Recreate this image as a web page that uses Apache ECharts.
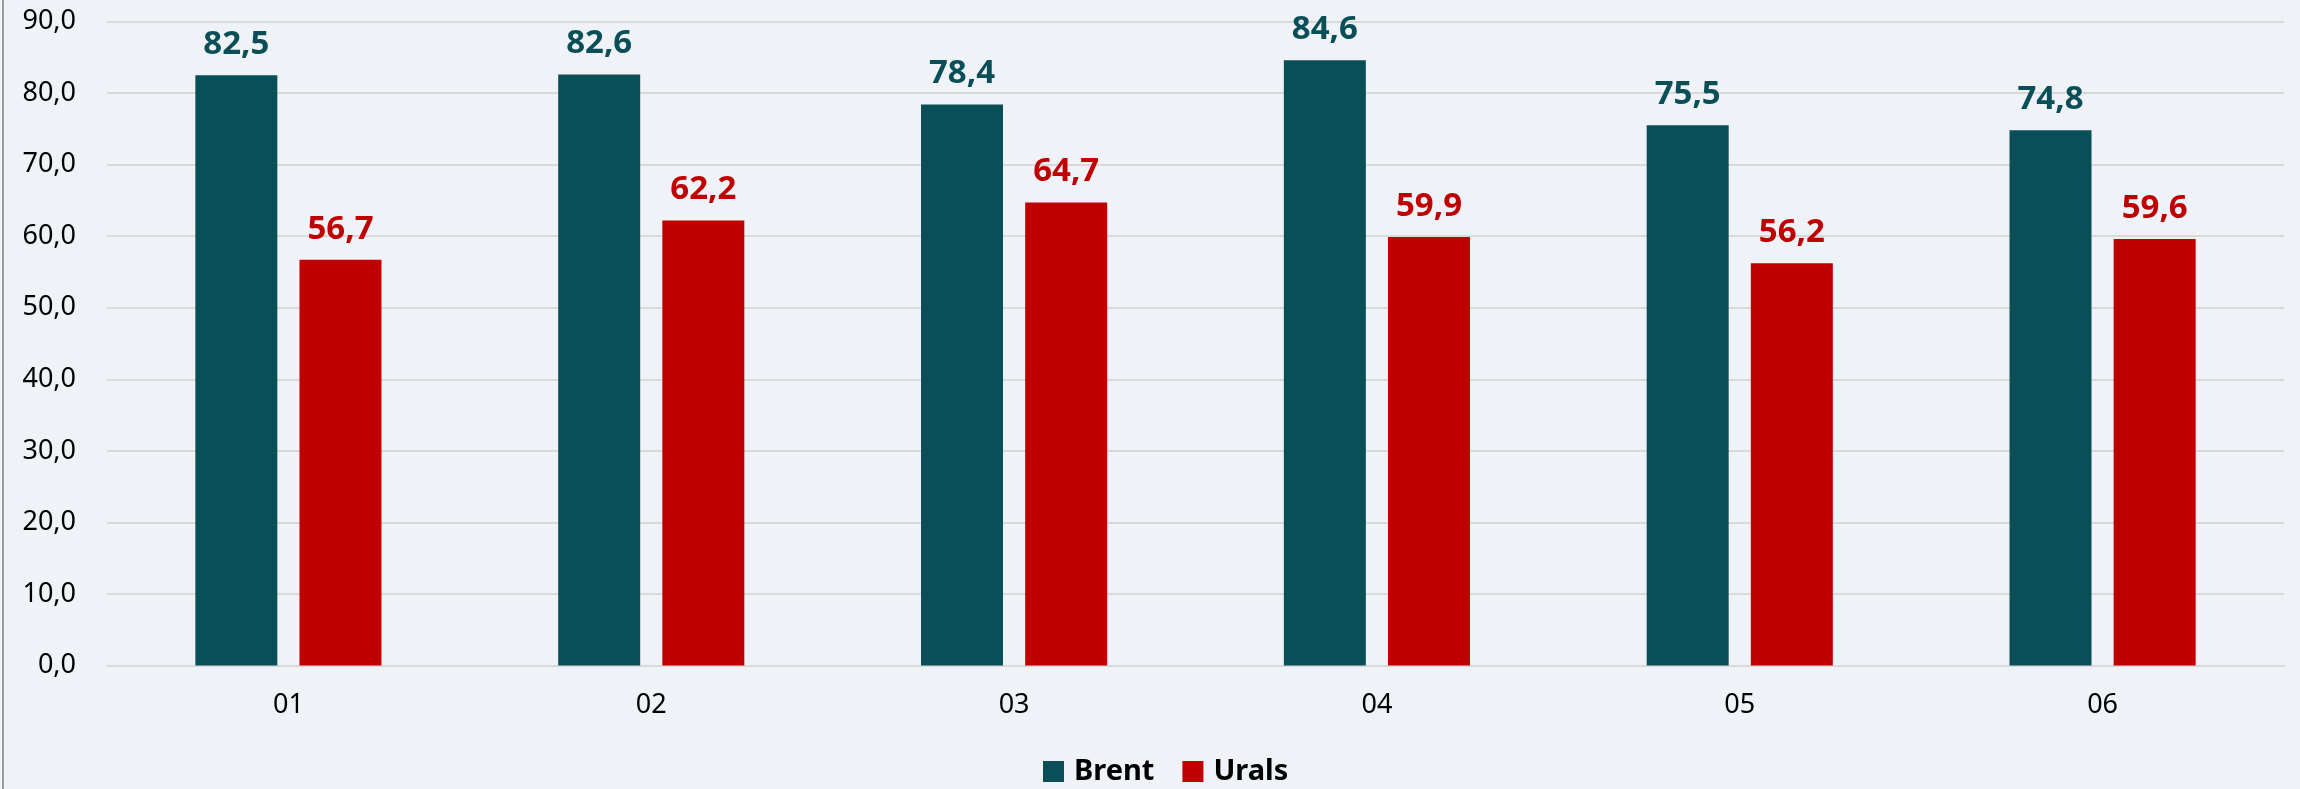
<!DOCTYPE html>
<html lang="ru">
<head>
    <meta charset="UTF-8">
    <title>Brent / Urals</title>
    <script src="https://cdn.jsdelivr.net/npm/echarts@6/dist/echarts.min.js"></script>
    <style>
        html, body { margin: 0; padding: 0; background: #eff3f7; }
    </style>
</head>
<body>
<div id="main" style="width: 2300px;height:789px;"></div>
<script>
    var months = ['01', '02', '03', '04', '05', '06'];
    var brent = [82.5, 82.6, 78.4, 84.6, 75.5, 74.8];
    var urals = [56.7, 62.2, 64.7, 59.9, 56.2, 59.6];

    var fmt = function (v) {
        return v.toFixed(1).replace('.', ',');
    };

    var myChart = echarts.init(document.getElementById('main'));
    var option = {
        backgroundColor: '#eff3f7',
        textStyle: { fontFamily: 'Noto Sans' },
        animation: false,
        graphic: [{
            type: 'line',
            shape: { x1: 3, y1: 0, x2: 3, y2: 789 },
            style: { stroke: '#9a9a9a', lineWidth: 2 }
        }],
        grid: { left: 107, right: 16, top: 21.5, bottom: 123.5 },
        legend: {
            left: 1038,
            top: 752,
            itemWidth: 21,
            itemHeight: 21,
            itemGap: 28,
            icon: 'rect',
            textStyle: { fontSize: 29, fontWeight: 'bold', color: '#000', padding: [0, 0, 0, 5] },
            data: ['Brent', 'Urals']
        },
        xAxis: {
            type: 'category',
            data: months,
            axisTick: { show: false },
            axisLine: { lineStyle: { color: '#d9d9d9', width: 2 } },
            axisLabel: { color: '#000', fontSize: 27, margin: 26 }
        },
        yAxis: {
            type: 'value',
            min: 0,
            max: 90,
            interval: 10,
            axisLine: { show: false },
            axisTick: { show: false },
            splitLine: { lineStyle: { color: '#d9d9d9', width: 2 } },
            axisLabel: { color: '#000', fontSize: 27, margin: 31, formatter: fmt }
        },
        series: [
            {
                name: 'Brent',
                type: 'bar',
                data: brent,
                barWidth: 82,
                barGap: '27%',
                itemStyle: { color: '#0a4f57' },
                label: {
                    show: true, position: 'top', distance: 14,
                    color: '#0a4f57', fontSize: 33, fontWeight: 'bold',
                    formatter: function (p) { return fmt(p.value); }
                }
            },
            {
                name: 'Urals',
                type: 'bar',
                data: urals,
                barWidth: 82,
                itemStyle: { color: '#c00000' },
                label: {
                    show: true, position: 'top', distance: 14,
                    color: '#c00000', fontSize: 33, fontWeight: 'bold',
                    formatter: function (p) { return fmt(p.value); }
                }
            }
        ]
    };

    myChart.setOption(option);
</script>
</body>
</html>
